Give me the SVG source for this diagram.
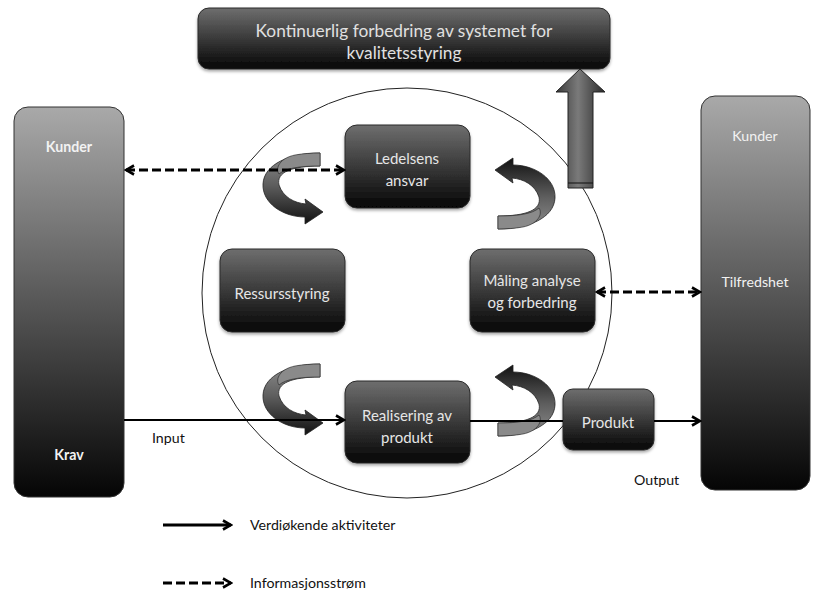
<svg xmlns="http://www.w3.org/2000/svg" width="816" height="595" viewBox="0 0 816 595">
  <style>
    .lbl { font-family: Lato, "Open Sans", "Liberation Sans", sans-serif; fill: #e6e6e6; font-size: 15px; text-anchor: middle; }
    .title { font-family: Lato, "Open Sans", "Liberation Sans", sans-serif; fill: #e0e0e0; font-size: 17.3px; text-anchor: middle; }
    .col { font-family: Lato, "Open Sans", "Liberation Sans", sans-serif; fill: #f2f2f2; font-size: 14.2px; text-anchor: middle; }
    .plain { font-family: Lato, "Open Sans", "Liberation Sans", sans-serif; fill: #111; font-size: 14.2px; }
    .box { fill: url(#boxGrad); stroke: #2a2a2a; stroke-width: 1; filter: url(#shadow); }
    .column { fill: url(#colGrad); stroke: #333; stroke-width: 1; }
    .flow { fill: none; stroke: #000; stroke-width: 2; }
    .flow.key { stroke-width: 3; }
    .info { fill: none; stroke: #000; stroke-width: 3; stroke-dasharray: 9 4; }
    .turn { fill: url(#turnGrad); stroke: #222; stroke-width: 0.8; }
    .back { fill: #8a8a8a; stroke: #222; stroke-width: 0.6; }
  </style>
  <defs>
    <linearGradient id="boxGrad" x1="0" y1="0" x2="0" y2="1">
      <stop offset="0" stop-color="#6e6e6e"/>
      <stop offset="1" stop-color="#050505"/>
    </linearGradient>
    <linearGradient id="colGrad" x1="0" y1="0" x2="0" y2="1">
      <stop offset="0" stop-color="#a9a9a9"/>
      <stop offset="1" stop-color="#050505"/>
    </linearGradient>
    <linearGradient id="turnGrad" x1="0" y1="0" x2="0" y2="1">
      <stop offset="0" stop-color="#8e8e8e"/>
      <stop offset="0.45" stop-color="#5e5e5e"/>
      <stop offset="1" stop-color="#111"/>
    </linearGradient>
    <linearGradient id="upGrad" x1="0" y1="0" x2="1" y2="0">
      <stop offset="0" stop-color="#3a3a3a"/>
      <stop offset="0.45" stop-color="#7a7a7a"/>
      <stop offset="1" stop-color="#2a2a2a"/>
    </linearGradient>
    <filter id="shadow" x="-10%" y="-10%" width="120%" height="130%">
      <feDropShadow dx="0" dy="2" stdDeviation="1.5" flood-color="#000" flood-opacity="0.35"/>
    </filter>
    <marker id="chev" viewBox="0 0 12 12" refX="10" refY="6" markerWidth="12" markerHeight="12" markerUnits="userSpaceOnUse" orient="auto-start-reverse">
      <path d="M2 1.5 L10 6 L2 10.5" fill="none" stroke="#000" stroke-width="2.6" stroke-linejoin="miter"/>
    </marker>
    <!-- curved ribbon arrow: top end, sweep left, head pointing right at bottom -->
    <path id="turnArrow" d="M320 153 L320 166 C292 166 276 172 279 185 C283 197 294 203 306 204 L305 199 L323 212 L305 224 L305 217 C283 217 262 203 263 184 C264 164 290 153 320 153 Z"/>
    <!-- lighter back face of the ribbon near its top end -->
    <path id="turnBack" d="M320 153 L320 166 C300 166 286 168 279 174 C275 168 280 158 295 155 C303 153.5 312 153 320 153 Z"/>
  </defs>

  <!-- outer process circle -->
  <circle cx="407" cy="293" r="205" fill="none" stroke="#222" stroke-width="1"/>

  <!-- top improvement box -->
  <g id="kontinuerlig">
    <rect class="box" x="198" y="8" width="412" height="61" rx="11"/>
    <text class="title" x="404" y="37">Kontinuerlig forbedring av systemet for</text>
    <text class="title" x="404" y="59">kvalitetsstyring</text>
  </g>

  <!-- upward block arrow -->
  <g id="opp-pil">
    <path d="M568 188 L568 92 L556 92 L580 69 L605 92 L593 92 L593 188 Z" fill="url(#upGrad)" stroke="#222" stroke-width="1"/>
    <line x1="568" y1="183" x2="593" y2="183" stroke="#111" stroke-width="1"/>
  </g>

  <!-- customer columns -->
  <g id="kunder-krav">
    <rect class="column" x="14" y="107" width="110" height="390" rx="14"/>
    <text class="col" x="69" y="152" font-weight="bold">Kunder</text>
    <text class="col" x="69" y="460" font-weight="bold">Krav</text>
  </g>
  <g id="kunder-tilfredshet">
    <rect class="column" x="701" y="96" width="109" height="394" rx="14"/>
    <text class="col" x="755" y="141">Kunder</text>
    <text class="col" x="755" y="287">Tilfredshet</text>
  </g>

  <!-- process boxes -->
  <g id="ledelsens-ansvar">
    <rect class="box" x="345" y="125" width="125" height="83" rx="12"/>
    <text class="lbl" x="407" y="164">Ledelsens</text>
    <text class="lbl" x="407" y="186">ansvar</text>
  </g>
  <g id="ressursstyring">
    <rect class="box" x="220" y="249" width="125" height="83" rx="12"/>
    <text class="lbl" x="282" y="299">Ressursstyring</text>
  </g>
  <g id="maling">
    <rect class="box" x="470" y="249" width="125" height="83" rx="12"/>
    <text class="lbl" x="532" y="286">Måling analyse</text>
    <text class="lbl" x="532" y="308">og forbedring</text>
  </g>
  <g id="realisering">
    <rect class="box" x="345" y="381" width="125" height="82" rx="12"/>
    <text class="lbl" x="407" y="421">Realisering av</text>
    <text class="lbl" x="407" y="443">produkt</text>
  </g>
  <g id="produkt">
    <rect class="box" x="563" y="389" width="91" height="61" rx="10"/>
    <text class="lbl" x="608" y="428">Produkt</text>
  </g>

  <!-- cycle arrows around the boxes -->
  <g id="sirkel-piler">
    <g>
      <use href="#turnArrow" class="turn"/>
      <use href="#turnBack" class="back"/>
    </g>
    <g transform="rotate(180 409 191)">
      <use href="#turnArrow" class="turn"/>
      <use href="#turnBack" class="back"/>
    </g>
    <g transform="translate(0 211)">
      <use href="#turnArrow" class="turn"/>
      <use href="#turnBack" class="back"/>
    </g>
    <g transform="translate(0 207) rotate(180 409 191)">
      <use href="#turnArrow" class="turn"/>
      <use href="#turnBack" class="back"/>
    </g>
  </g>

  <!-- connectors -->
  <g id="connectors">
    <line class="flow" x1="124" y1="420" x2="344" y2="420" marker-end="url(#chev)"/>
    <line class="flow" x1="470" y1="421" x2="563" y2="421"/>
    <line class="flow" x1="654" y1="421" x2="700" y2="421" marker-end="url(#chev)"/>
    <line class="info" x1="126" y1="170" x2="344" y2="170" marker-start="url(#chev)" marker-end="url(#chev)"/>
    <line class="info" x1="597" y1="292" x2="700" y2="292" marker-start="url(#chev)" marker-end="url(#chev)"/>
  </g>

  <!-- flow labels -->
  <text class="plain" x="152" y="443">Input</text>
  <text class="plain" x="634" y="485">Output</text>

  <!-- legend -->
  <g id="legend">
    <line class="flow key" x1="163" y1="525" x2="231" y2="525" marker-end="url(#chev)"/>
    <text class="plain" x="250" y="530">Verdiøkende aktiviteter</text>
    <line class="info" x1="163" y1="583" x2="231" y2="583" marker-end="url(#chev)"/>
    <text class="plain" x="250" y="588">Informasjonsstrøm</text>
  </g>
</svg>
